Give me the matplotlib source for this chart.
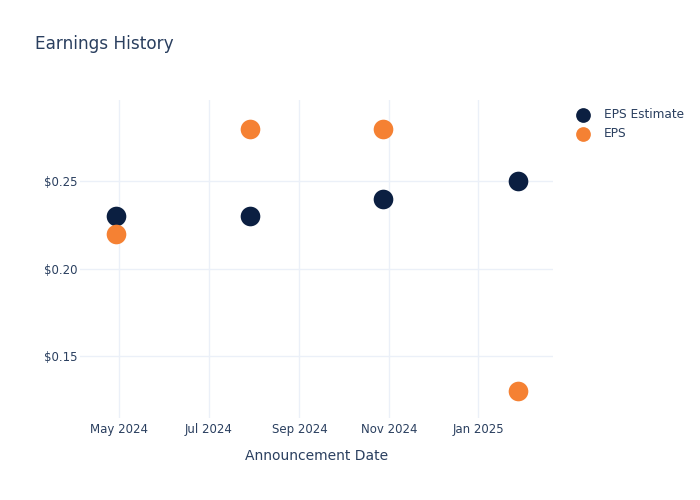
import matplotlib
matplotlib.use("Agg")
import matplotlib.pyplot as plt
import matplotlib.dates as mdates
import pandas as pd

# data
dates = ["2024-04-29", "2024-07-29", "2024-10-28", "2025-01-28"]
eps_estimate = [0.23, 0.23, 0.24, 0.25]
eps_actual = [0.22, 0.28, 0.28, 0.13]
y_ticks = [0.15, 0.20, 0.25]

text_col = "#2a3f5f"
grid_col = "#ebf0f8"
navy = "#0b1f41"
orange = "#f58133"

x = pd.to_datetime(dates)

fig = plt.figure(figsize=(7, 5), dpi=100)
ax = fig.add_axes([80 / 700, 82 / 500, 473 / 700, 318 / 500])

ax.scatter(x, eps_estimate, s=200, color=navy, label="EPS Estimate", zorder=3, linewidths=0)
ax.scatter(x, eps_actual, s=200, color=orange, label="EPS", zorder=3, linewidths=0)

ax.set_xlim(pd.Timestamp("2024-04-04 06:00"), pd.Timestamp("2025-02-21"))
ax.set_ylim(0.1146, 0.2963)

ax.xaxis.set_major_locator(mdates.MonthLocator(bymonth=[1, 3, 5, 7, 9, 11]))
ax.xaxis.set_major_formatter(mdates.DateFormatter("%b %Y"))
ax.set_yticks(y_ticks)
ax.set_yticklabels(["$%.2f" % v for v in y_ticks])

ax.grid(True, color=grid_col, linewidth=1)
ax.set_axisbelow(True)
for sp in ax.spines.values():
    sp.set_visible(False)
ax.tick_params(length=0, labelsize=8.5, colors=text_col)
ax.tick_params(axis="y", pad=1.5)
ax.tick_params(axis="x", pad=3.8)

ax.set_xlabel("Announcement Date", fontsize=10, color=text_col, labelpad=9)
fig.text(35 / 700, 1 - 44 / 500, "Earnings History", fontsize=12.2, color=text_col, va="center")

leg = ax.legend(loc="upper left", bbox_to_anchor=(1.015, 1.01), frameon=False,
                fontsize=8.7, labelcolor=text_col, handletextpad=0.7,
                labelspacing=0.5, markerscale=0.75)

fig.savefig("out.png", dpi=100)
